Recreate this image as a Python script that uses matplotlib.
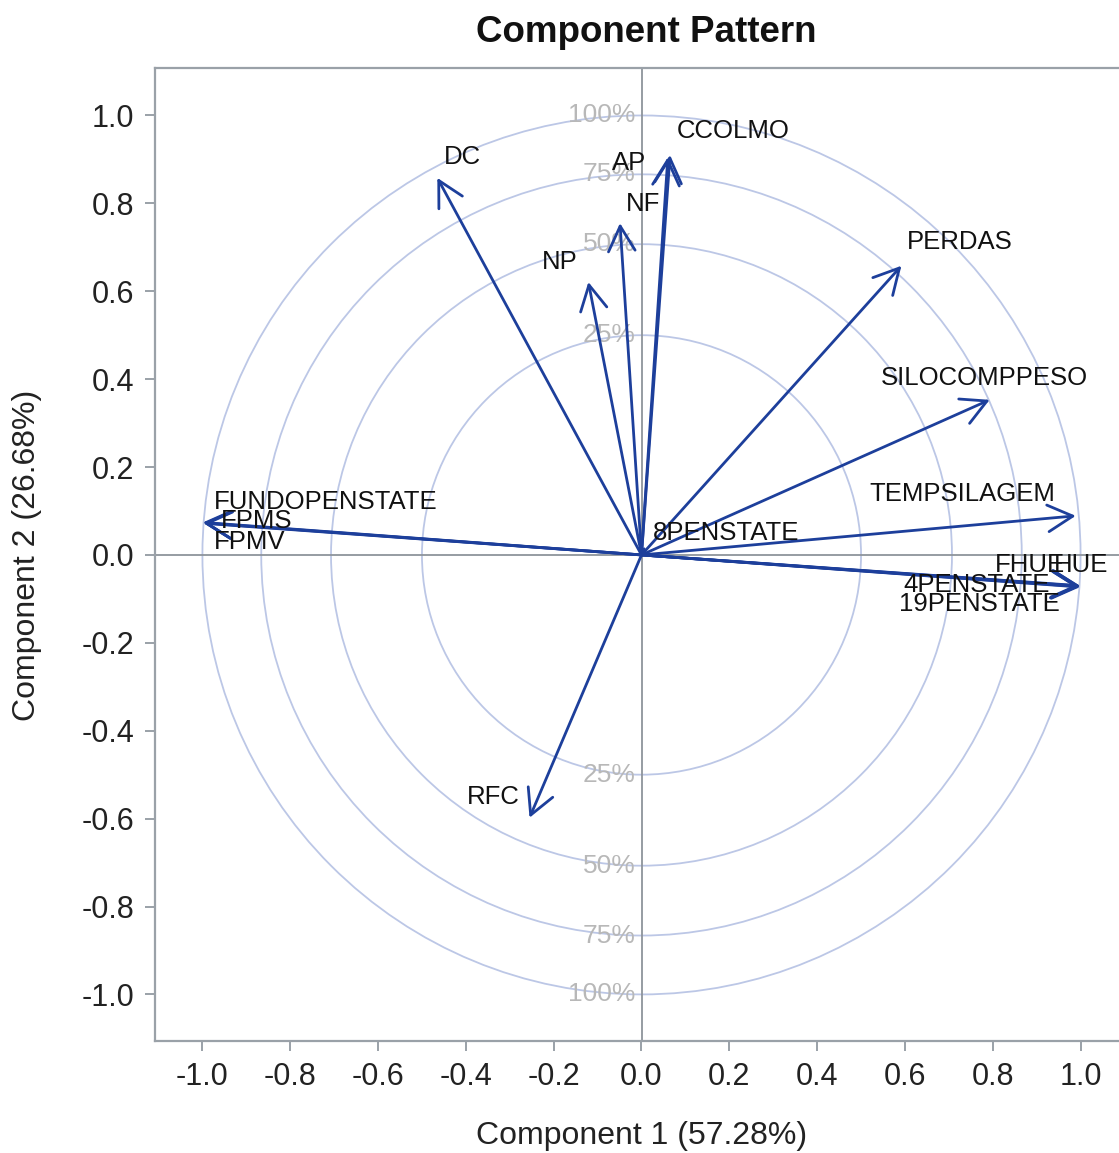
import matplotlib
matplotlib.use("Agg")
import matplotlib.pyplot as plt
from matplotlib.patches import Circle
import numpy as np

plt.rcParams['font.family'] = ['Liberation Sans', 'DejaVu Sans']

# component loadings
variaveis = ["DC", "AP", "CCOLMO", "NF", "NP", "PERDAS", "SILOCOMPPESO",
             "TEMPSILAGEM", "FHUE", "HUE", "4PENSTATE", "19PENSTATE",
             "8PENSTATE", "FUNDOPENSTATE", "FPMS", "FPMV", "RFC"]
comp1 = [-0.465, 0.060, 0.065, -0.049, -0.121, 0.592, 0.793,
         0.989, 0.998, 1.000, 0.997, 0.999,
         0.006, -0.998, -0.999, -0.997, -0.255]
comp2 = [0.858, 0.905, 0.910, 0.755, 0.621, 0.658, 0.353,
         0.089, -0.070, -0.071, -0.072, -0.073,
         0.014, 0.073, 0.074, 0.072, -0.598]

# label offsets from arrow tip, in pixels (x right, y up)
offsets = {
    "DC": (25, 21), "AP": (-39, -6), "CCOLMO": (63, 24), "NF": (23, 19),
    "NP": (-29, 20), "PERDAS": (58, 24), "SILOCOMPPESO": (-5, 22),
    "TEMPSILAGEM": (-113, 22), "FHUE": (-50, 21), "HUE": (0, 21),
    "4PENSTATE": (-103, 2), "19PENSTATE": (-101, -17), "8PENSTATE": (82, 16),
    "FUNDOPENSTATE": (122, 21), "FPMS": (54, 1), "FPMV": (46, -19),
    "RFC": (-36, 21),
}

pct_labels = ["25%", "50%", "75%", "100%"]
pct_vals = [0.25, 0.50, 0.75, 1.00]
ticks = np.arange(-1.0, 1.01, 0.2)

W, H = 1119, 1153
fig = plt.figure(figsize=(W / 100, H / 100), dpi=100)
# axes runs past the right border like the cropped original
ax = fig.add_axes([155 / W, 112 / H, 973 / W, 973 / H])
ax.set_xlim(-1.108, 1.108)
ax.set_ylim(-1.106, 1.108)

grey = '#9aa1a8'
for s in ax.spines.values():
    s.set_color(grey)
    s.set_linewidth(1.6)

circ_col = '#bcc7e6'
for p, lab in zip(pct_vals, pct_labels):
    r = np.sqrt(p)
    ax.add_patch(Circle((0, 0), r, fill=False, ec=circ_col, lw=1.3, zorder=1))
    for sgn in (1, -1):
        ax.annotate(lab, xy=(0, sgn * r), xytext=(-6, 0), textcoords='offset pixels',
                    ha='right', va='center', fontsize=19, color='#b8b8b8', zorder=2)

ax.axhline(0, color='#8e949b', lw=1.3, zorder=2)
ax.axvline(0, color='#8e949b', lw=1.3, zorder=2)

azul = '#1d3f9b'
for nome, x, y in zip(variaveis, comp1, comp2):
    if np.hypot(x, y) > 0.05:
        estilo = '->,head_length=0.6,head_width=0.32'
    else:
        estilo = '-'
    ax.annotate("", xy=(x, y), xytext=(0, 0),
                arrowprops=dict(arrowstyle=estilo, color=azul, lw=2.0,
                                shrinkA=0, shrinkB=0, mutation_scale=30), zorder=3)
for nome, x, y in zip(variaveis, comp1, comp2):
    ax.annotate(nome, xy=(x, y), xytext=offsets[nome], textcoords='offset pixels',
                ha='center', va='center', fontsize=18.5, color='#111111', zorder=4)

ax.set_xticks(ticks)
ax.set_yticks(ticks)
ax.set_xticklabels([f"{t:.1f}" if abs(t) > 1e-9 else "0.0" for t in ticks])
ax.set_yticklabels([f"{t:.1f}" if abs(t) > 1e-9 else "0.0" for t in ticks])
ax.tick_params(axis='both', direction='out', length=7, width=1.4, color=grey,
               labelsize=22, labelcolor='#222222', pad=8)

fig.text(27 / W, 1 - 555 / H, "Component 2 (26.68%)", rotation=90,
         ha='center', va='center', fontsize=23, color='#222222')
fig.text(642 / W, 1 - 1136 / H, "Component 1 (57.28%)",
         ha='center', va='center', fontsize=23, color='#222222')
fig.text(646 / W, 1 - 32 / H, "Component Pattern", ha='center', va='center',
         fontsize=26.5, fontweight='bold', color='#111111')

fig.savefig("out.png", dpi=100)
